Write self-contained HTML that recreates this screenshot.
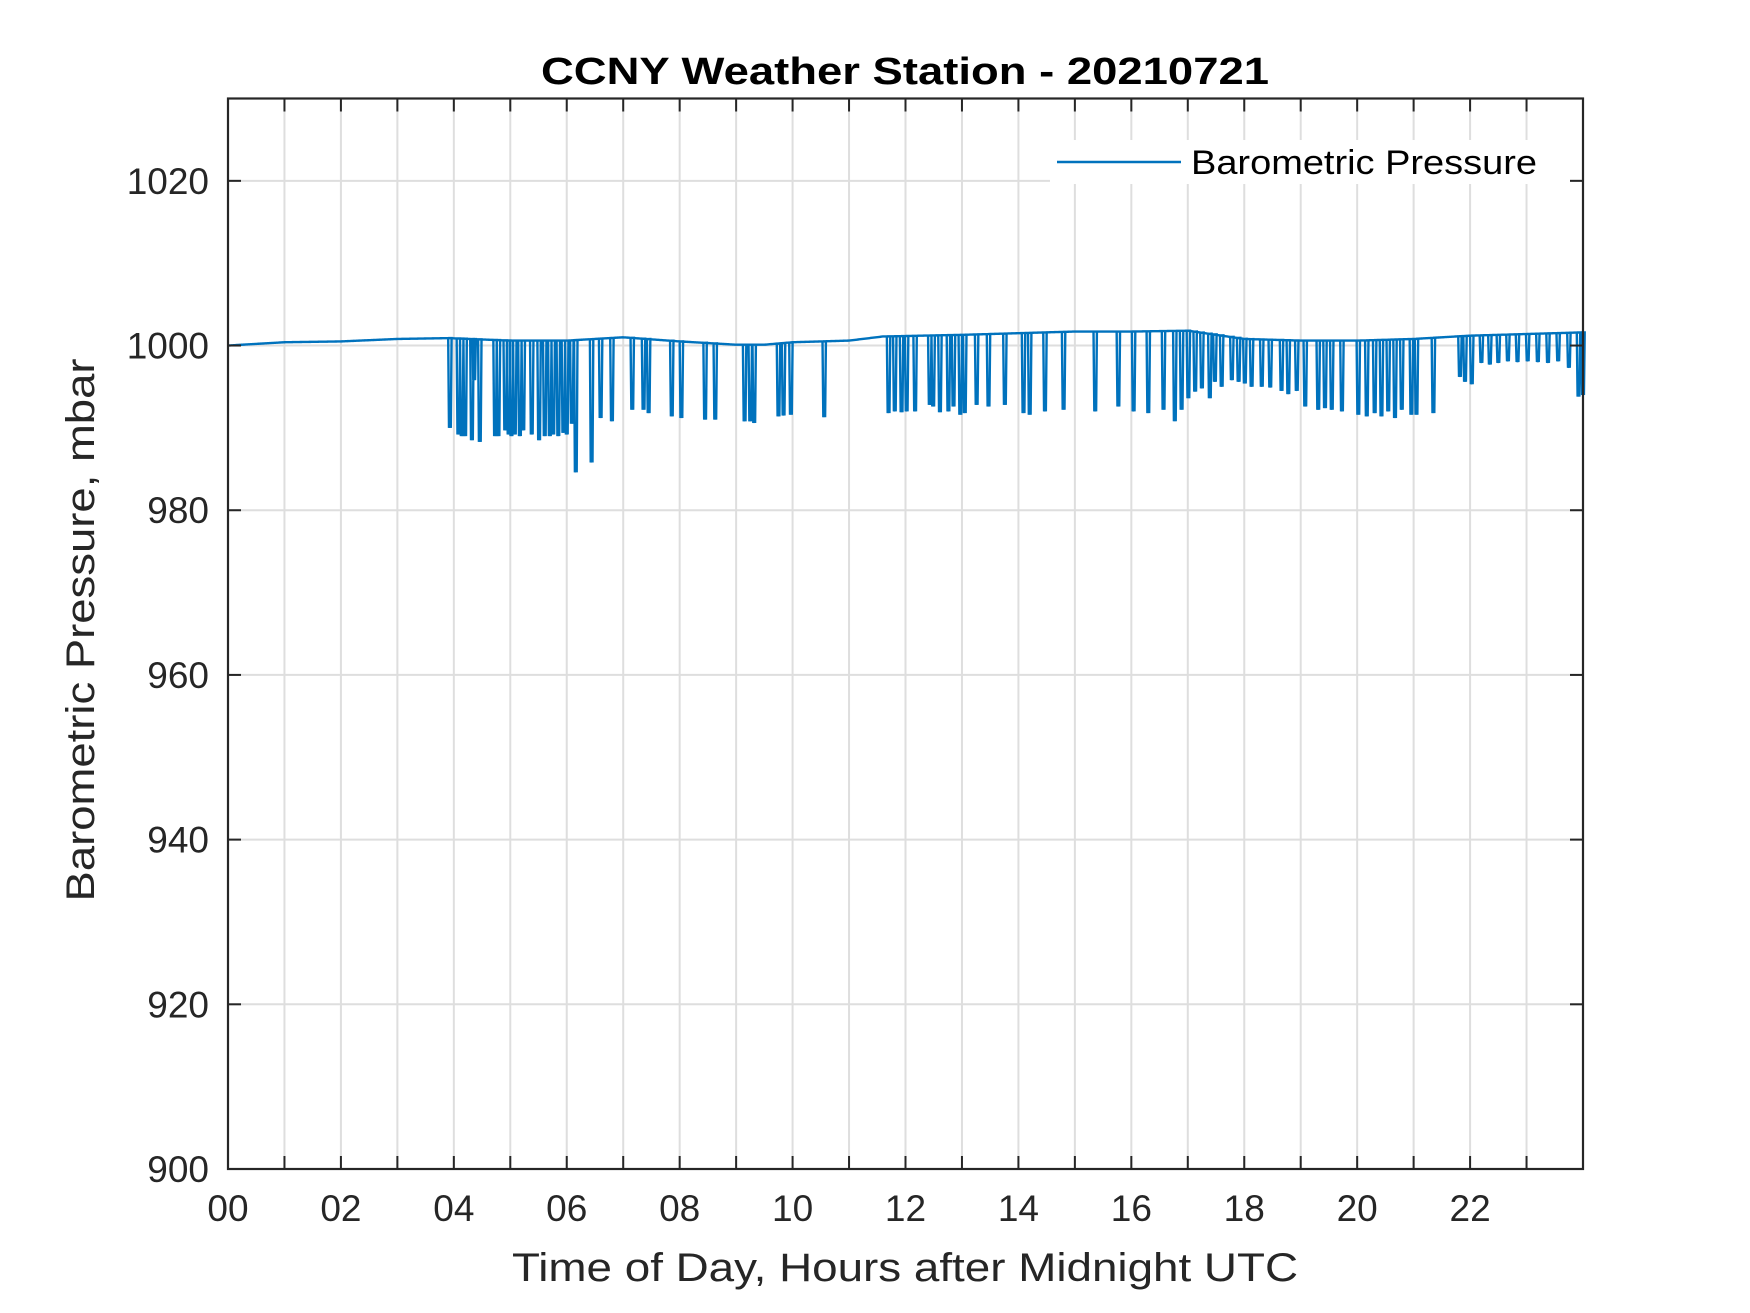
<!DOCTYPE html>
<html><head><meta charset="utf-8"><style>
html,body{margin:0;padding:0;background:#fff;}
svg{display:block;font-family:"Liberation Sans",Arial,sans-serif;}
</style></head><body>
<svg id="chart" width="1750" height="1313" viewBox="0 0 1750 1313" xmlns="http://www.w3.org/2000/svg">
<rect width="1750" height="1313" fill="#fff"/>
<g id="grid"></g>
<g>
<rect x="1050" y="140" width="520" height="44" fill="#fff"/>
</g>
<path id="series" fill="none" stroke="#0072BD" stroke-width="2.4" stroke-linejoin="miter"/>
<g id="axes"></g>
<text x="905" y="84" text-anchor="middle" font-size="38" font-weight="bold" fill="#000" textLength="728" lengthAdjust="spacingAndGlyphs">CCNY Weather Station - 20210721</text>
<text x="905" y="1281" text-anchor="middle" font-size="40" fill="#262626" textLength="786" lengthAdjust="spacingAndGlyphs">Time of Day, Hours after Midnight UTC</text>
<text transform="translate(94,630) rotate(-90)" text-anchor="middle" font-size="40" fill="#262626" textLength="543" lengthAdjust="spacingAndGlyphs">Barometric Pressure, mbar</text>
<g>
<line x1="1057" y1="162" x2="1181" y2="162" stroke="#0072BD" stroke-width="2.4"/>
<text x="1191" y="174" font-size="34" fill="#000" textLength="346" lengthAdjust="spacingAndGlyphs">Barometric Pressure</text>
</g>
</svg>
<script>
const baseHours = [0,1,2,3,3.9,5,6,7,8,9,9.5,10,11,11.6,13,14,15,16,17,18,19,20,21,22,23,24];
const baseValues = [1000,1000.4,1000.5,1000.8,1000.9,1000.6,1000.6,1001,1000.5,1000.1,1000.1,1000.4,1000.6,1001.1,1001.3,1001.5,1001.7,1001.7,1001.8,1000.8,1000.6,1000.6,1000.8,1001.2,1001.4,1001.6];
const spikeHours = [3.90,4.05,4.11,4.17,4.29,4.33,4.43,4.70,4.76,4.88,4.94,4.99,5.05,5.14,5.20,5.35,5.48,5.58,5.67,5.73,5.82,5.91,5.97,6.06,6.13,6.41,6.57,6.77,7.13,7.33,7.42,7.83,8.00,8.42,8.60,9.12,9.22,9.29,9.72,9.81,9.94,10.53,
11.67,11.78,11.90,11.99,12.14,12.40,12.46,12.58,12.73,12.82,12.94,13.02,13.23,13.44,13.73,14.06,14.17,14.44,14.77,15.33,15.74,16.01,16.27,16.54,16.74,16.86,16.98,17.10,17.22,17.36,17.45,17.57,17.75,17.87,
17.98,18.10,18.28,18.43,18.63,18.75,18.90,19.05,19.28,19.40,19.52,19.70,19.99,20.14,20.28,20.40,20.52,20.64,20.76,20.93,21.02,21.32,21.79,21.88,22.00,22.17,22.32,22.47,22.64,22.81,22.99,23.17,23.35,23.53,23.72,23.89,23.97];
const spikeValues = [990,989.2,989,989,988.5,995.8,988.3,989,989,989.7,989.2,989,989.2,989,989.7,989.2,988.5,989,989,989.2,989,989.4,989.2,990.5,984.6,985.8,991.2,990.8,992.2,992.2,991.8,991.4,991.2,991,991,990.8,990.8,990.6,991.4,991.5,991.6,991.3,
991.8,992,991.9,992,992,992.8,992.6,991.9,992,992.6,991.6,991.8,992.8,992.6,992.8,991.8,991.6,992,992.2,992,992.6,992,991.8,992.2,990.8,992.2,993.6,994.4,994.8,993.6,995.6,995,995.8,995.6,
995.4,995,995,994.9,994.5,994.1,994.5,992.6,992.2,992.4,992.2,992,991.6,991.4,991.8,991.4,992,991.2,992.2,991.6,991.6,991.8,996.2,995.6,995.3,997.9,997.7,997.9,998.1,998,998.1,998,997.9,998.1,997.3,993.8,994];
const xTicks = [0,2,4,6,8,10,12,14,16,18,20,22];
const xTickLabels = ["00","02","04","06","08","10","12","14","16","18","20","22"];
const yTicks = [900,920,940,960,980,1000,1020];
const yTickLabels = ["900","920","940","960","980","1000","1020"];

const L=228,R=1583,T=98.5,B=1169,X0=0,X1=24,Y0=900,Y1=1030;
const sx=h=>L+(h-X0)/(X1-X0)*(R-L);
const sy=v=>B-(v-Y0)/(Y1-Y0)*(B-T);
const NS="http://www.w3.org/2000/svg";
function mk(tag,attrs,parent){const e=document.createElementNS(NS,tag);for(const k in attrs)e.setAttribute(k,attrs[k]);parent.appendChild(e);return e;}
function baseAt(h){for(let i=0;i<baseHours.length-1;i++){if(h<=baseHours[i+1]){const t=(h-baseHours[i])/(baseHours[i+1]-baseHours[i]);return baseValues[i]+t*(baseValues[i+1]-baseValues[i]);}}return baseValues[baseValues.length-1];}

const grid=document.getElementById('grid'),axes=document.getElementById('axes');
for(let h=1;h<24;h++){
  const gl=mk('line',{x1:sx(h),x2:sx(h),y1:T,y2:B,stroke:'#dedede','stroke-width':2},grid);
  
  
  const t1=mk('line',{x1:sx(h),x2:sx(h),y1:T,y2:T+13,stroke:'#262626','stroke-width':2},axes);
  
  
  const t2=mk('line',{x1:sx(h),x2:sx(h),y1:B-13,y2:B,stroke:'#262626','stroke-width':2},axes);
  
  
}
yTicks.forEach((v,i)=>{
  if(v>Y0){
    const gl=mk('line',{x1:L,x2:R,y1:sy(v),y2:sy(v),stroke:'#dedede','stroke-width':2},grid);
    
    
    const t1=mk('line',{x1:L,x2:L+13,y1:sy(v),y2:sy(v),stroke:'#262626','stroke-width':2},axes);
    
    
    const t2=mk('line',{x1:R-13,x2:R,y1:sy(v),y2:sy(v),stroke:'#262626','stroke-width':2},axes);
    
    
  }
  const tl=mk('text',{x:L-19,y:sy(v)+13,'text-anchor':'end','font-size':37,fill:'#262626'},axes);
  
  
  tl.textContent=yTickLabels[i];
});
xTicks.forEach((h,i)=>{
  const tl=mk('text',{x:sx(h),y:1221,'text-anchor':'middle','font-size':37,fill:'#262626'},axes);
  
  
  tl.textContent=xTickLabels[i];
});
const frame=mk('rect',{x:L,y:T,width:R-L,height:B-T,fill:'none',stroke:'#262626','stroke-width':2.2},axes);



// series path: each spike drawn as a narrow down/up excursion
let si=0;
const idx=spikeHours.map((h,i)=>i).sort((a,b)=>spikeHours[a]-spikeHours[b]);
let d='M'+sx(0)+','+sy(baseAt(0));
const step=0.02;
for(let h=step;h<=24+1e-9;h+=step){
  while(si<idx.length&&spikeHours[idx[si]]<=h){
    const k=idx[si],sh=spikeHours[k],x=sx(sh),yb=sy(baseAt(sh)),ym=sy(spikeValues[k]);
    d+='L'+x.toFixed(2)+','+yb.toFixed(2);
    d+='L'+(x+0.8).toFixed(2)+','+ym.toFixed(2);
    d+='L'+(x+1.8).toFixed(2)+','+((yb+ym)/2+ (ym-yb)*0.4).toFixed(2);
    d+='L'+(x+2.6).toFixed(2)+','+ym.toFixed(2);
    d+='L'+(x+3.4).toFixed(2)+','+yb.toFixed(2);
    si++;
  }
  d+='L'+sx(h).toFixed(2)+','+sy(baseAt(h)).toFixed(2);
}
document.getElementById('series').setAttribute('d',d);
</script>
</body></html>
